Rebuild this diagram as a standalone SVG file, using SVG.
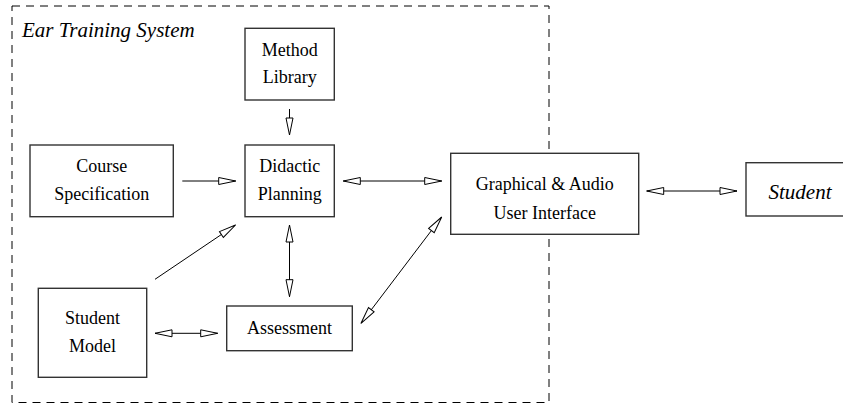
<svg xmlns="http://www.w3.org/2000/svg" width="843" height="405" viewBox="0 0 843 405">
<style>
  .frame { fill: none; stroke: #000; stroke-width: 1; stroke-dasharray: 8 6; }
  .box { fill: #fff; stroke: #333; stroke-width: 1.4; }
  .lbl { font-family: "Liberation Serif", "Times New Roman", serif; font-size: 18px; fill: #000; text-anchor: middle; }
  .ital { font-family: "Liberation Serif", "Times New Roman", serif; font-size: 21px; font-style: italic; fill: #000; }
  .conn { fill: none; stroke: #000; stroke-width: 1; }
  .one { marker-end: url(#head); }
  .two { marker-start: url(#head); marker-end: url(#head); }
</style>
<defs>
  <marker id="head" markerUnits="userSpaceOnUse" markerWidth="20" markerHeight="10" refX="17" refY="3.5" orient="auto-start-reverse" overflow="visible">
    <path d="M0,0 L17,3.5 L0,7 Z" fill="#fff" stroke="#000" stroke-width="1"/>
  </marker>
</defs>
<rect width="843" height="405" fill="#fff"/>
<g id="system-frame">
  <rect class="frame" x="12" y="6" width="537" height="396.5"/>
  <text class="ital" x="22" y="36.5">Ear Training System</text>
</g>
<g id="connectors">
  <line class="conn one" x1="289.5" y1="109" x2="289.5" y2="135"/>
  <line class="conn one" x1="182.3" y1="181" x2="235.7" y2="181"/>
  <line class="conn two" x1="343.3" y1="181" x2="441.7" y2="181"/>
  <line class="conn two" x1="646.7" y1="191" x2="737" y2="191"/>
  <line class="conn two" x1="289.5" y1="225" x2="289.5" y2="296.7"/>
  <line class="conn one" x1="155" y1="279.3" x2="235.5" y2="225"/>
  <line class="conn two" x1="155" y1="333.3" x2="217.7" y2="333.3"/>
  <line class="conn two" x1="361" y1="323.3" x2="441.7" y2="217"/>
</g>
<g id="method-library">
  <rect class="box" x="245" y="28.3" width="89.3" height="71.7"/>
  <text class="lbl" x="289.7" y="56">Method</text>
  <text class="lbl" x="289.7" y="83">Library</text>
</g>
<g id="course-specification">
  <rect class="box" x="30" y="145" width="143.3" height="71.7"/>
  <text class="lbl" x="101.7" y="172">Course</text>
  <text class="lbl" x="101.7" y="200">Specification</text>
</g>
<g id="didactic-planning">
  <rect class="box" x="245" y="145" width="89.3" height="71.7"/>
  <text class="lbl" x="289.7" y="172">Didactic</text>
  <text class="lbl" x="289.7" y="200">Planning</text>
</g>
<g id="gui">
  <rect class="box" x="450.7" y="153.3" width="188" height="81"/>
  <text class="lbl" x="544.7" y="190">Graphical &amp; Audio</text>
  <text class="lbl" x="544.7" y="219">User Interface</text>
</g>
<g id="student">
  <rect class="box" x="746" y="162.7" width="108" height="53.3"/>
  <text class="ital" x="800" y="199" text-anchor="middle">Student</text>
</g>
<g id="student-model">
  <rect class="box" x="38.3" y="288.3" width="108.4" height="89"/>
  <text class="lbl" x="92.5" y="324">Student</text>
  <text class="lbl" x="92.5" y="351.7">Model</text>
</g>
<g id="assessment">
  <rect class="box" x="226.7" y="306" width="125.6" height="44.7"/>
  <text class="lbl" x="289.5" y="333.5">Assessment</text>
</g>
</svg>
